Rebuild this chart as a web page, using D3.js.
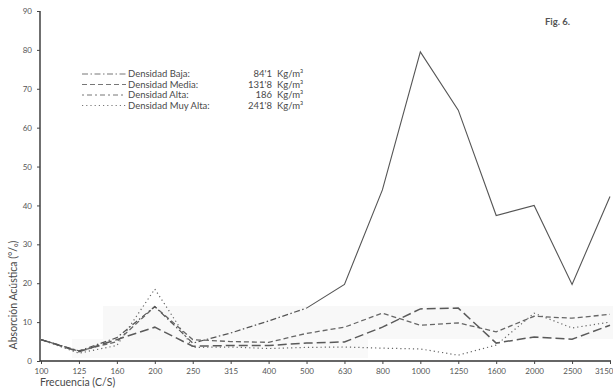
<!DOCTYPE html>
<html>
<head>
<meta charset="utf-8">
<script src="https://cdn.jsdelivr.net/npm/d3@7"></script>
<style>
  html, body { margin: 0; padding: 0; background: #fff; }
  svg { display: block; font-family: Lato, "DejaVu Sans", sans-serif; }
</style>
</head>
<body>
<svg id="chart" width="613" height="390"></svg>
<script>
// Frequency bands (C/S) and absorption (%) for four densities
const frequencies = ["100","125","160","200","250","315","400","500","630","800","1000","1250","1600","2000","2500","3150"];
const densidadBaja    = [5.5, 2.6, 6.0, 14.0, 4.6, 7.2, 10.3, 13.6, 19.7, 44.0, 79.5, 64.5, 37.4, 40.0, 19.7, 42.3];
const densidadMedia   = [5.5, 2.5, 5.0, 14.0, 5.5, 5.0, 4.8, 7.1, 8.7, 12.3, 9.2, 9.8, 7.5, 11.5, 11.0, 12.0];
const densidadAlta    = [5.5, 2.4, 5.5, 8.7, 3.8, 4.0, 4.0, 4.6, 4.9, 8.7, 13.4, 13.6, 4.6, 6.2, 5.6, 9.2];
const densidadMuyAlta = [5.5, 2.0, 4.0, 18.5, 3.5, 3.6, 3.2, 3.5, 3.6, 3.3, 3.1, 1.5, 4.1, 12.3, 8.5, 10.0];

const yTicks = [0, 10, 20, 30, 40, 50, 60, 70, 80, 90];
const legendNames  = ["Densidad Baja:", "Densidad Media:", "Densidad Alta:", "Densidad Muy Alta:"];
const legendValues = ["84'1", "131'8", "186", "241'8"];
const legendUnit = "Kg/m\u00B3";

const svg = d3.select("#chart");
const ink = "#4a4a4a";

const x = d3.scalePoint().domain(frequencies).range([41, 610]);
const y = d3.scaleLinear().domain([0, 90]).range([361, 11]);

// faint paper tone behind the low curves
svg.append("rect").attr("x", 103).attr("y", 306).attr("width", 510).attr("height", 33).attr("fill", "#f8f8f8");
svg.append("rect").attr("x", 72).attr("y", 339).attr("width", 296).attr("height", 19).attr("fill", "#f9f9f9");

// axes
const yAxis = svg.append("g").attr("transform", "translate(40,0)")
  .call(d3.axisLeft(y).tickValues(yTicks).tickSize(3).tickPadding(5));
const xAxis = svg.append("g").attr("transform", "translate(0,361)")
  .call(d3.axisBottom(x).tickSize(3).tickPadding(4));
[yAxis, xAxis].forEach(g => {
  g.select(".domain").attr("stroke", "#333").attr("stroke-width", 1.4);
  g.selectAll(".tick line").attr("stroke", "#444");
  g.selectAll(".tick text").attr("fill", "#555").attr("font-size", 8).attr("font-family", "Lato, sans-serif");
});
xAxis.select(".domain").attr("d", "M40,0H611");
yAxis.select(".domain").attr("d", "M0,11V361");
xAxis.selectAll(".tick text").filter(d => d === frequencies[frequencies.length - 1])
  .attr("text-anchor", "end").attr("dx", 3);

// series lines
const line = d3.line().x((d, i) => x(frequencies[i])).y(d => y(d));
const series = [
  { values: densidadMedia,   dash: "5,3",   width: 1.3, color: "#666" },
  { values: densidadAlta,    dash: "9,4",   width: 1.5, color: "#5a5a5a" },
  { values: densidadMuyAlta, dash: "1.2,3", width: 1.2, color: "#666" }
];
series.forEach(s => {
  svg.append("path").datum(s.values).attr("d", line)
    .attr("fill", "none").attr("stroke", s.color).attr("stroke-width", s.width)
    .attr("stroke-dasharray", s.dash);
});
// Baja: dash-dot in the low range, continuous from 500 C/S upward
const lowPart = d3.line().defined((d, i) => i <= 7).x((d, i) => x(frequencies[i])).y(d => y(d));
const highPart = d3.line().defined((d, i) => i >= 7).x((d, i) => x(frequencies[i])).y(d => y(d));
svg.append("path").datum(densidadBaja).attr("d", lowPart)
  .attr("fill", "none").attr("stroke", "#555").attr("stroke-width", 1.2)
  .attr("stroke-dasharray", "6,2.5,1.5,2.5");
svg.append("path").datum(densidadBaja).attr("d", highPart)
  .attr("fill", "none").attr("stroke", "#555").attr("stroke-width", 1.1);

// legend
const legendDash = ["6,2.5,1.5,2.5", "5,3", "2,3,5,3", "1.2,3"];
const rowY = [77, 87.5, 98, 108.5];
legendNames.forEach((name, i) => {
  svg.append("line").attr("x1", 82).attr("x2", 126).attr("y1", rowY[i] - 3).attr("y2", rowY[i] - 3)
    .attr("stroke", "#777").attr("stroke-width", 1).attr("stroke-dasharray", legendDash[i]);
  svg.append("text").attr("x", 128).attr("y", rowY[i]).attr("font-size", 9.5).attr("fill", ink).text(name);
  svg.append("text").attr("x", 272).attr("y", rowY[i]).attr("font-size", 9.5).attr("fill", ink)
    .attr("text-anchor", "end").text(legendValues[i]);
  svg.append("text").attr("x", 277).attr("y", rowY[i]).attr("font-size", 9.5).attr("fill", ink).text(legendUnit);
});

// titles
svg.append("text").attr("transform", "translate(17,295) rotate(-90)")
  .attr("text-anchor", "middle").attr("font-size", 10.5).attr("fill", ink)
  .text("Absorción Acústica (°/₀)");
svg.append("text").attr("x", 40).attr("y", 386).attr("font-size", 10.5).attr("fill", ink)
  .text("Frecuencia (C/S)");
svg.append("text").attr("x", 545).attr("y", 25).attr("font-size", 9.5).attr("font-weight", "bold").attr("fill", "#555")
  .text("Fig. 6.");
</script>
</body>
</html>
